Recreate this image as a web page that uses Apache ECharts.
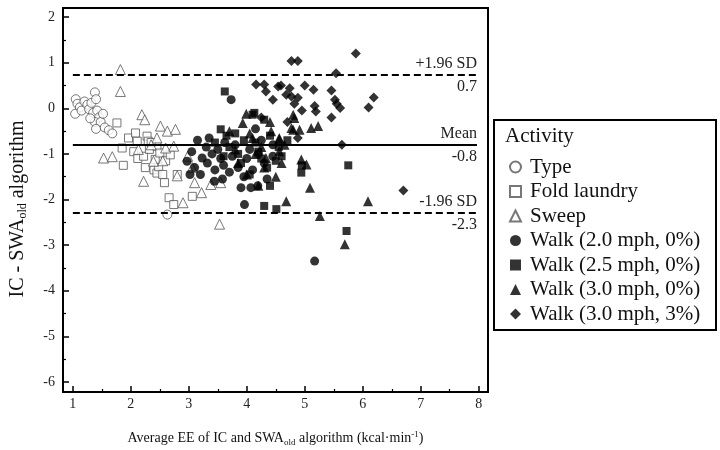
<!DOCTYPE html>
<html>
<head>
<meta charset="utf-8">
<script src="https://cdn.jsdelivr.net/npm/echarts@6/dist/echarts.min.js"></script>
<style>
  html, body { margin: 0; padding: 0; background: #fff; }
  #main { width: 720px; height: 450px; }
</style>
</head>
<body>
<div id="main"></div>
<script>
// tick positions
var xTicks = [1, 2, 3, 4, 5, 6, 7, 8];
var xMinorTicks = [1.5, 2.5, 3.5, 4.5, 5.5, 6.5, 7.5];
var yTicks = [-6, -5, -4, -3, -2, -1, 0, 1, 2];
var yMinorTicks = [-5.5, -4.5, -3.5, -2.5, -1.5, -0.5, 0.5, 1.5];

// Bland-Altman limits
var limitValues = [0.74, -0.79, -2.30];
var limitNames = ['+1.96 SD', 'Mean', '-1.96 SD'];
var limitLabels = ['0.7', '-0.8', '-2.3'];
var limitRange = [1.0, 7.97];

var activities = ['Type', 'Fold laundry', 'Sweep', 'Walk (2.0 mph, 0%)',
  'Walk (2.5 mph, 0%)', 'Walk (3.0 mph, 0%)', 'Walk (3.0 mph, 3%)'];

var typeData = [[1.05,0.20],[1.08,0.10],[1.12,0.02],[1.04,-0.12],[1.15,-0.05],[1.20,0.15],
  [1.25,0.08],[1.28,-0.02],[1.32,0.12],[1.38,0.35],[1.40,0.20],[1.35,-0.10],[1.42,-0.05],
  [1.45,-0.20],[1.38,-0.30],[1.48,-0.30],[1.52,-0.12],[1.40,-0.45],[1.55,-0.42],[1.62,-0.48],
  [1.68,-0.55],[1.30,-0.22],[2.63,-2.33]];
var foldData = [[1.76,-0.32],[1.96,-0.65],[1.85,-0.87],[1.87,-1.25],[2.11,-0.72],[2.05,-0.95],
  [2.28,-0.61],[2.30,-0.72],[2.12,-1.10],[2.22,-1.05],[2.32,-0.90],[2.25,-1.30],[2.40,-1.35],
  [2.45,-1.42],[2.48,-1.28],[2.55,-1.45],[2.60,-1.15],[2.68,-1.02],[2.45,-0.83],[2.42,-1.12],
  [2.58,-1.63],[2.66,-1.96],[2.74,-2.11],[3.06,-1.93],[2.08,-0.54],[2.35,-0.75],[2.50,-0.98],
  [2.80,-1.45]];
var sweepData = [[1.82,0.85],[1.82,0.37],[2.19,-0.14],[2.24,-0.25],[2.51,-0.39],[2.63,-0.50],
  [2.77,-0.46],[2.45,-0.65],[1.53,-1.09],[1.68,-1.06],[2.22,-1.60],[2.60,-0.87],[2.74,-0.83],
  [2.39,-1.16],[2.80,-1.48],[3.06,-1.30],[3.10,-1.63],[3.22,-1.85],[3.38,-1.67],[3.55,-1.63],
  [2.90,-2.07],[3.53,-2.54],[2.13,-0.90],[2.35,-0.80],[2.55,-1.15],[2.98,-1.05]];
var walk20Data = [[2.97,-1.16],[3.05,-0.95],[3.10,-1.30],[3.20,-1.45],[3.23,-1.09],[3.30,-0.85],
  [3.35,-0.65],[3.32,-1.20],[3.40,-1.00],[3.44,-1.60],[3.45,-1.35],[3.50,-0.90],[3.55,-1.10],
  [3.60,-1.25],[3.62,-0.75],[3.70,-1.40],[3.73,0.19],[3.75,-1.05],[3.80,-0.80],[3.85,-1.30],
  [3.90,-1.74],[3.95,-1.50],[3.96,-2.11],[4.00,-1.10],[4.05,-0.90],[4.07,-1.74],[4.10,-1.35],
  [4.19,-1.70],[4.20,-1.00],[4.25,-0.70],[4.30,-1.20],[4.35,-1.55],[4.45,-0.80],[4.45,-1.05],
  [3.15,-0.70],[4.15,-0.45],[5.17,-3.35],[3.02,-1.45],[3.58,-1.55]];
var walk25Data = [[3.62,0.37],[3.55,-0.46],[3.65,-0.60],[3.45,-0.75],[3.70,-0.85],[3.80,-0.55],
  [3.85,-1.00],[3.95,-0.70],[4.10,-0.14],[4.13,-0.10],[4.30,-0.25],[4.20,-0.95],[4.25,-1.10],
  [4.35,-1.30],[4.40,-0.60],[4.50,-1.15],[4.55,-0.85],[4.60,-1.05],[4.30,-2.14],[4.51,-2.21],
  [4.40,-1.70],[4.94,-1.41],[4.95,-1.25],[5.75,-1.25],[5.72,-2.69],[3.90,-1.20],[4.05,-1.45],
  [3.60,-1.05],[4.15,-0.75],[4.70,-0.70]];
var walk30Data = [[3.93,-0.32],[3.99,-0.12],[4.05,-0.55],[4.10,-0.65],[4.25,-0.85],[4.33,-1.09],
  [4.30,-1.30],[4.42,-0.50],[4.50,-1.50],[4.56,-0.65],[4.56,-0.94],[4.60,-1.20],[4.68,-2.04],
  [4.80,-0.14],[4.82,-0.21],[4.77,-0.43],[4.80,-0.47],[4.91,-0.47],[4.94,-1.12],[5.03,-1.23],
  [5.11,-0.43],[5.09,-1.74],[5.23,-0.39],[5.26,-2.36],[5.69,-2.98],[6.09,-2.04],[4.56,-0.68],
  [4.00,-1.45],[3.80,-0.90],[3.70,-0.50],[4.15,-1.00],[4.40,-0.30],[4.65,-0.80],[4.20,-1.70],
  [3.85,-1.20]];
var walk30gData = [[4.16,0.52],[4.30,0.52],[4.33,0.37],[4.45,0.19],[4.54,0.48],[4.59,0.50],
  [4.68,0.30],[4.74,0.44],[4.77,1.04],[4.88,1.04],[4.77,0.26],[4.88,0.23],[4.82,0.10],
  [5.15,0.41],[5.19,-0.07],[5.17,0.05],[5.46,0.39],[5.46,-0.20],[5.52,0.19],[5.55,0.10],
  [5.61,0.01],[5.54,0.77],[5.88,1.20],[6.10,0.02],[6.19,0.24],[5.64,-0.80],[6.70,-1.80],
  [4.88,-0.65],[4.70,-0.30],[4.25,-0.20],[4.95,-0.05],[5.00,0.50]];

var serif = 'Liberation Serif';

var chart = echarts.init(document.getElementById('main'));

var openStyle = { color: '#fff', borderColor: '#555', borderWidth: 1 };
var fillStyle = { color: '#000' };

function scatter(name, data, symbol, size, style) {
  return {
    name: name, type: 'scatter', data: data, symbol: symbol, symbolSize: size,
    itemStyle: style, emphasis: { disabled: true }, z: 3
  };
}

// reference lines, name above and value below each one
var markData = [];
limitValues.forEach(function (v, i) {
  var ls = i === 1 ? { type: 'solid', width: 1.8, color: '#000' }
                   : { type: [7, 4], width: 2, color: '#000' };
  markData.push([
    { coord: [limitRange[0], v], lineStyle: ls,
      label: { formatter: limitNames[i], position: 'insideEndTop', distance: [0, 3] } },
    { coord: [limitRange[1], v] }
  ]);
  markData.push([
    { coord: [limitRange[0], v], lineStyle: { color: 'rgba(0,0,0,0)', width: 0.1 },
      label: { formatter: limitLabels[i], position: 'insideEndBottom', distance: [0, 4] } },
    { coord: [limitRange[1], v] }
  ]);
});

var series = [
  scatter(activities[0], typeData, 'circle', 9, openStyle),
  scatter(activities[1], foldData, 'rect', 8, openStyle),
  scatter(activities[2], sweepData, 'triangle', 10, openStyle),
  scatter(activities[3], walk20Data, 'circle', 9, fillStyle),
  scatter(activities[4], walk25Data, 'rect', 8, fillStyle),
  scatter(activities[5], walk30Data, 'triangle', 10, fillStyle),
  scatter(activities[6], walk30gData, 'diamond', 10, fillStyle)
];
series.push({
  type: 'line', data: [], silent: true,
  markLine: {
    silent: true, symbol: 'none', animation: false,
    label: { color: '#222', fontFamily: serif, fontSize: 16 },
    data: markData
  }
});

var axisFont = { color: '#222', fontFamily: serif, fontSize: 14 };

var option = {
  animation: false,
  grid: { left: 63, right: 232, top: 8, bottom: 58, show: true, outerBoundsMode: 'none',
          borderColor: '#000', borderWidth: 2, backgroundColor: 'transparent' },
  legend: {
    orient: 'vertical', left: 504, top: 151, itemGap: 2.5,
    itemWidth: 11, itemHeight: 11, selectedMode: false,
    data: activities,
    textStyle: { fontFamily: serif, fontSize: 21, color: '#111', lineHeight: 22,
                 padding: [0, 0, 0, 4] }
  },
  graphic: [
    { type: 'rect', shape: { x: 494, y: 120, width: 222, height: 210 },
      style: { fill: 'none', stroke: '#000', lineWidth: 2 } },
    { type: 'text', left: 505, top: 126,
      style: { text: 'Activity', font: '21px "Liberation Serif"', fill: '#111' } }
  ],
  xAxis: [{
    type: 'value', min: 0.83, max: 8.16, splitLine: { show: false },
    axisLine: { onZero: false, lineStyle: { color: '#000', width: 2 } },
    axisTick: { inside: true, length: 6, customValues: xTicks, lineStyle: { color: '#000', width: 1.5 } },
    axisLabel: Object.assign({ customValues: xTicks, margin: 5 }, axisFont),
    name: 'Average EE of IC and SWA{sub|old} algorithm (kcal·min{sup|-1})',
    nameLocation: 'middle', nameGap: 38,
    nameTextStyle: { fontFamily: serif, fontSize: 14, color: '#111',
      rich: { sub: { fontFamily: serif, fontSize: 9, padding: [8, 0, 0, 0] },
              sup: { fontFamily: serif, fontSize: 9, padding: [0, 0, 8, 0] } } }
  }, {
    type: 'value', position: 'bottom', min: 0.83, max: 8.16, splitLine: { show: false },
    axisLine: { show: false, onZero: false },
    axisTick: { inside: true, length: 3, customValues: xMinorTicks, lineStyle: { color: '#000', width: 1.2 } },
    axisLabel: { show: false }
  }],
  yAxis: [{
    type: 'value', min: -6.22, max: 2.2, splitLine: { show: false },
    axisLine: { onZero: false, lineStyle: { color: '#000', width: 2 } },
    axisTick: { inside: true, length: 6, customValues: yTicks, lineStyle: { color: '#000', width: 1.5 } },
    axisLabel: Object.assign({ customValues: yTicks, margin: 8 }, axisFont),
    name: 'IC - SWA{sub|old} algorithm',
    nameLocation: 'middle', nameGap: 34, nameRotate: 90,
    nameTextStyle: { fontFamily: serif, fontSize: 20, color: '#111', padding: [0, 18, 0, 0],
      rich: { sub: { fontFamily: serif, fontSize: 12, padding: [10, 0, 0, 0] } } }
  }, {
    type: 'value', position: 'left', min: -6.22, max: 2.2, splitLine: { show: false },
    axisLine: { show: false, onZero: false },
    axisTick: { inside: true, length: 3, customValues: yMinorTicks, lineStyle: { color: '#000', width: 1.2 } },
    axisLabel: { show: false }
  }],
  series: series
};

chart.setOption(option);
</script>
</body>
</html>
